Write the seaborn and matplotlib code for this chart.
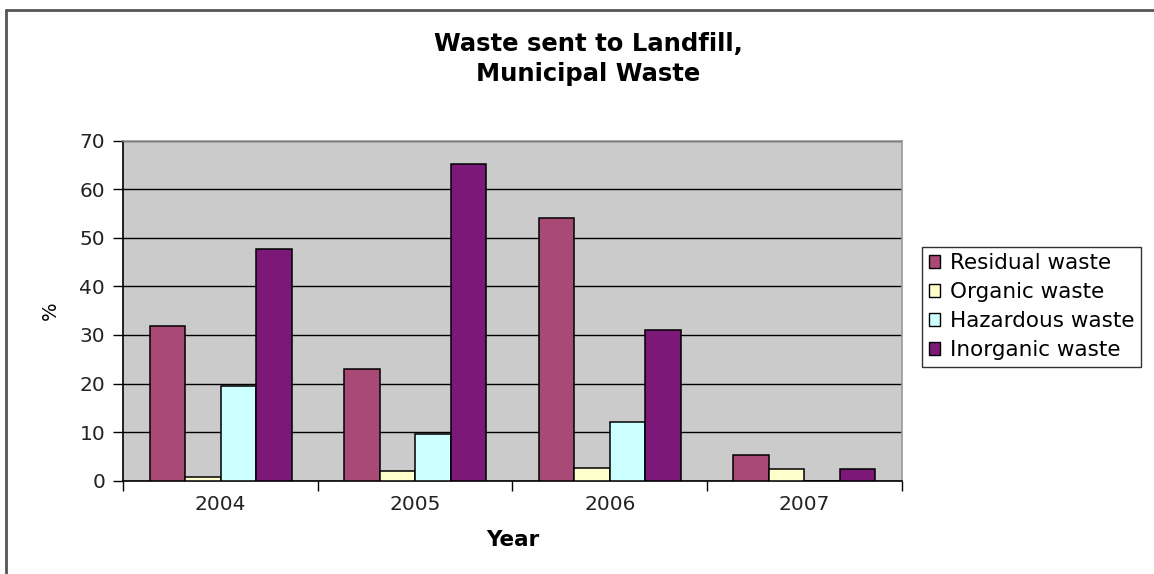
import matplotlib
matplotlib.use("Agg")
import matplotlib.pyplot as plt
from matplotlib.lines import Line2D
from matplotlib.ticker import FixedLocator
import numpy as np
import pandas as pd
import seaborn as sns

# values (% of municipal waste sent to landfill)
years = ["2004", "2005", "2006", "2007"]
waste_types = ["Residual waste", "Organic waste", "Hazardous waste", "Inorganic waste"]
residual = [31.8, 23.1, 54.1, 5.3]
organic = [0.7, 1.9, 2.7, 2.4]
hazardous = [19.6, 9.7, 12.1, 0.0]
inorganic = [47.8, 65.3, 31.0, 2.4]
colors = ["#A94A76", "#FFFFCC", "#CCFFFF", "#7C1878"]

df = pd.DataFrame({
    "Year": years * 4,
    "type": np.repeat(waste_types, len(years)),
    "value": residual + organic + hazardous + inorganic,
})

sns.set_style("white")
plt.rcParams["font.family"] = ["DejaVu Sans"]

fig = plt.figure(figsize=(11.54, 5.74), dpi=100)
ax = fig.add_axes([0.1068, 0.1625, 0.6746, 0.5924])

sns.barplot(data=df, x="Year", y="value", hue="type", order=years,
            hue_order=waste_types, palette=colors, saturation=1,
            width=0.73, edgecolor="black", linewidth=1.1, ax=ax, zorder=3)

ax.set_facecolor("#CBCBCB")
ax.set_ylim(0, 70)
ax.set_xlim(-0.5, 3.5)
ax.set_yticks(range(0, 71, 10))
ax.yaxis.grid(True, color="black", linewidth=1.0, zorder=0)
ax.set_axisbelow(True)

# tick marks between the year groups, no marks under the labels
ax.xaxis.set_minor_locator(FixedLocator([-0.5, 0.5, 1.5, 2.5, 3.5]))
ax.tick_params(axis="x", which="major", length=0, labelsize=14.5, pad=10, colors="#222222")
ax.tick_params(axis="x", which="minor", length=7, width=1, color="black", direction="out")
ax.tick_params(axis="y", length=7, width=1, color="black", direction="out",
               labelsize=14.5, pad=6, labelcolor="#222222")
ax.tick_params(axis="both", bottom=True, left=True, which="both")

for side in ["left", "bottom"]:
    ax.spines[side].set_color("black")
    ax.spines[side].set_linewidth(1.2)
for side in ["top", "right"]:
    ax.spines[side].set_visible(True)
    ax.spines[side].set_color("#999999")
    ax.spines[side].set_linewidth(1.2)

ax.set_xlabel("Year", fontsize=15.5, fontweight="bold", labelpad=12, color="black")
ax.set_ylabel("%", fontsize=14, labelpad=14, color="black")

ax.legend_.remove()
handles = [plt.Rectangle((0, 0), 1, 1, facecolor=c, edgecolor="black", linewidth=1)
           for c in colors]
leg = fig.legend(handles, waste_types, loc="upper left",
                 bbox_to_anchor=(0.799, 0.570), fontsize=15.5, frameon=True,
                 fancybox=False, edgecolor="black", handlelength=0.55,
                 handleheight=0.55, handletextpad=0.45, labelspacing=0.42,
                 borderpad=0.3, borderaxespad=0)
leg.get_frame().set_linewidth(1.0)
for t in leg.get_texts():
    t.set_color("black")

fig.text(0.51, 0.945, "Waste sent to Landfill,\nMunicipal Waste", ha="center",
         va="top", fontsize=17.5, fontweight="bold", linespacing=1.32, color="black")

# chart-area border (only top and left edges visible in the reference)
fig.add_artist(Line2D([0.0052, 1.0], [0.983, 0.983], color="#555555", linewidth=2,
                      transform=fig.transFigure))
fig.add_artist(Line2D([0.0052, 0.0052], [0.0, 0.983], color="#555555", linewidth=2,
                      transform=fig.transFigure))

fig.savefig("out.png", dpi=100, facecolor="white")
